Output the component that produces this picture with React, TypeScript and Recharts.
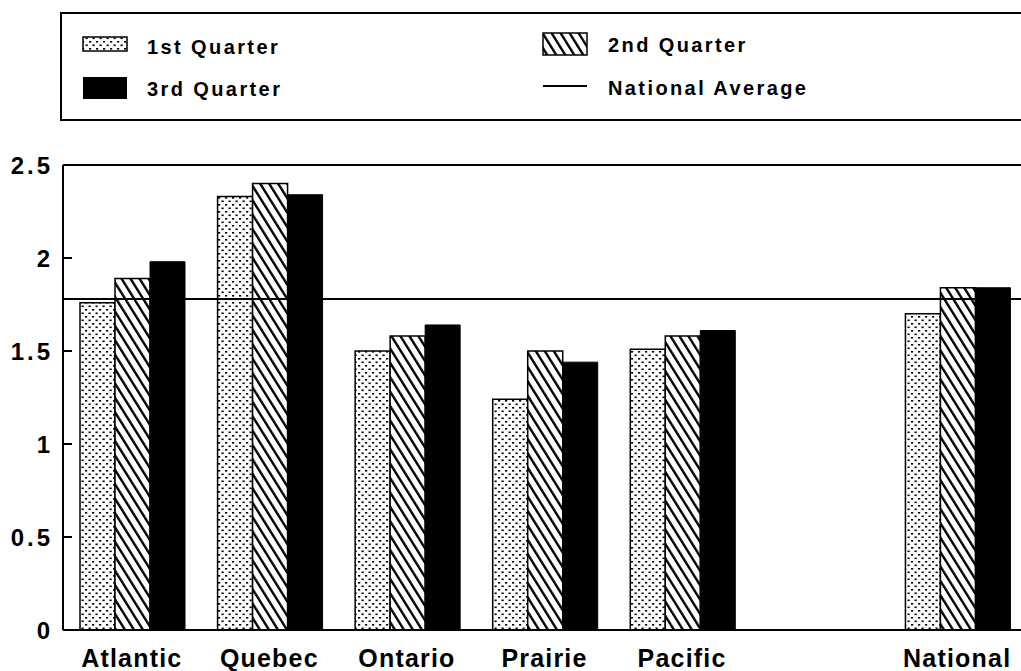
import React from 'react';
import { BarChart, Bar, XAxis, YAxis, ReferenceLine, Legend } from 'recharts';

const regions = ['Atlantic', 'Quebec', 'Ontario', 'Prairie', 'Pacific', '', 'National'];
const q1 = [1.76, 2.33, 1.5, 1.24, 1.51, null, 1.7];
const q2 = [1.89, 2.4, 1.58, 1.5, 1.58, null, 1.84];
const q3 = [1.98, 2.34, 1.64, 1.44, 1.61, null, 1.84];
const nationalAverage = 1.78;
const yTicks = [0, 0.5, 1, 1.5, 2, 2.5];
const seriesNames = ['1st Quarter', '2nd Quarter', '3rd Quarter', 'National Average'];

const data = regions.map((name, i) => ({ name, q1: q1[i], q2: q2[i], q3: q3[i] }));

const FONT = '"Liberation Sans", Arial, sans-serif';

const Patterns = ({ suffix }: { suffix: string }) => (
  <defs>
    <pattern id={'dots' + suffix} patternUnits="userSpaceOnUse" width="7" height="7">
      <rect width="7" height="7" fill="#fff" />
      <rect x="1" y="1" width="2.2" height="1.6" fill="#000" />
      <rect x="4.5" y="4.5" width="2.2" height="1.6" fill="#000" />
    </pattern>
    <pattern id={'hatch' + suffix} patternUnits="userSpaceOnUse" width="9" height="9" patternTransform="skewX(32)">
      <rect width="9" height="9" fill="#fff" />
      <rect x="0" y="0" width="2.8" height="9" fill="#000" />
    </pattern>
  </defs>
);

const XTick = (props: any) => {
  const { x, y, payload } = props;
  return (
    <text x={x} y={y + 37} textAnchor="middle" fontFamily={FONT} fontWeight={700} fontSize={25} letterSpacing={1.2} fill="#000">
      {payload.value}
    </text>
  );
};

const YTick = (props: any) => {
  const { x, y, payload } = props;
  return (
    <g>
      <line x1={x} x2={x + 9} y1={y} y2={y} stroke="#000" strokeWidth={2} />
      <text x={x - 10} y={y + 9} textAnchor="end" fontFamily={FONT} fontWeight={700} fontSize={24} letterSpacing={3} fill="#000">
        {String(payload.value)}
      </text>
    </g>
  );
};

const LegendBox = () => (
  <svg width={961} height={110} style={{ display: 'block' }}>
    <Patterns suffix="L" />
    <rect x={1} y={1} width={1000} height={107} fill="#fff" stroke="#000" strokeWidth={2} />
    <rect x={23} y={25} width={44} height={14} fill="url(#dotsL)" stroke="#000" strokeWidth={1.5} />
    <text x={87} y={42} fontFamily={FONT} fontWeight={700} fontSize={20} letterSpacing={2.4} fill="#000">{seriesNames[0]}</text>
    <rect x={483} y={21} width={44} height={22} fill="url(#hatchL)" stroke="#000" strokeWidth={1.5} />
    <text x={548} y={40} fontFamily={FONT} fontWeight={700} fontSize={20} letterSpacing={2.4} fill="#000">{seriesNames[1]}</text>
    <rect x={23} y={65} width={44} height={22} fill="#000" />
    <text x={87} y={84} fontFamily={FONT} fontWeight={700} fontSize={20} letterSpacing={2.4} fill="#000">{seriesNames[2]}</text>
    <line x1={483} x2={527} y1={74} y2={74} stroke="#000" strokeWidth={2} />
    <text x={548} y={83} fontFamily={FONT} fontWeight={700} fontSize={20} letterSpacing={2.4} fill="#000">{seriesNames[3]}</text>
  </svg>
);

export default function App() {
  return (
    <div style={{ position: 'fixed', left: 0, top: 0, width: 1021, height: 671, overflow: 'hidden', background: '#fff' }}>
      <BarChart
        width={1026}
        height={671}
        data={data}
        margin={{ top: 165, right: 0, bottom: 0, left: 0 }}
        barCategoryGap={17}
        barGap={0}
      >
        <Patterns suffix="" />
        <XAxis
          dataKey="name"
          height={41}
          tickSize={0}
          tickMargin={0}
          tickLine={false}
          interval={0}
          axisLine={{ stroke: '#000', strokeWidth: 2 }}
          tick={<XTick />}
        />
        <YAxis
          width={63}
          domain={[0, 2.5]}
          ticks={yTicks}
          interval={0}
          tickSize={0}
          tickMargin={0}
          tickLine={false}
          axisLine={{ stroke: '#000', strokeWidth: 2 }}
          tick={<YTick />}
        />
        <Bar dataKey="q1" name={seriesNames[0]} fill="url(#dots)" stroke="#000" strokeWidth={1.5} isAnimationActive={false} />
        <Bar dataKey="q2" name={seriesNames[1]} fill="url(#hatch)" stroke="#000" strokeWidth={1.5} isAnimationActive={false} />
        <Bar dataKey="q3" name={seriesNames[2]} fill="#000" stroke="#000" strokeWidth={1} isAnimationActive={false} />
        <ReferenceLine y={2.5} stroke="#000" strokeWidth={2} />
        <ReferenceLine y={nationalAverage} stroke="#000" strokeWidth={2} />
        <Legend
          verticalAlign="middle"
          align="center"
          layout="horizontal"
          content={() => <LegendBox />}
          wrapperStyle={{ top: 12, left: 60, width: 961, height: 110 }}
        />
      </BarChart>
    </div>
  );
}
